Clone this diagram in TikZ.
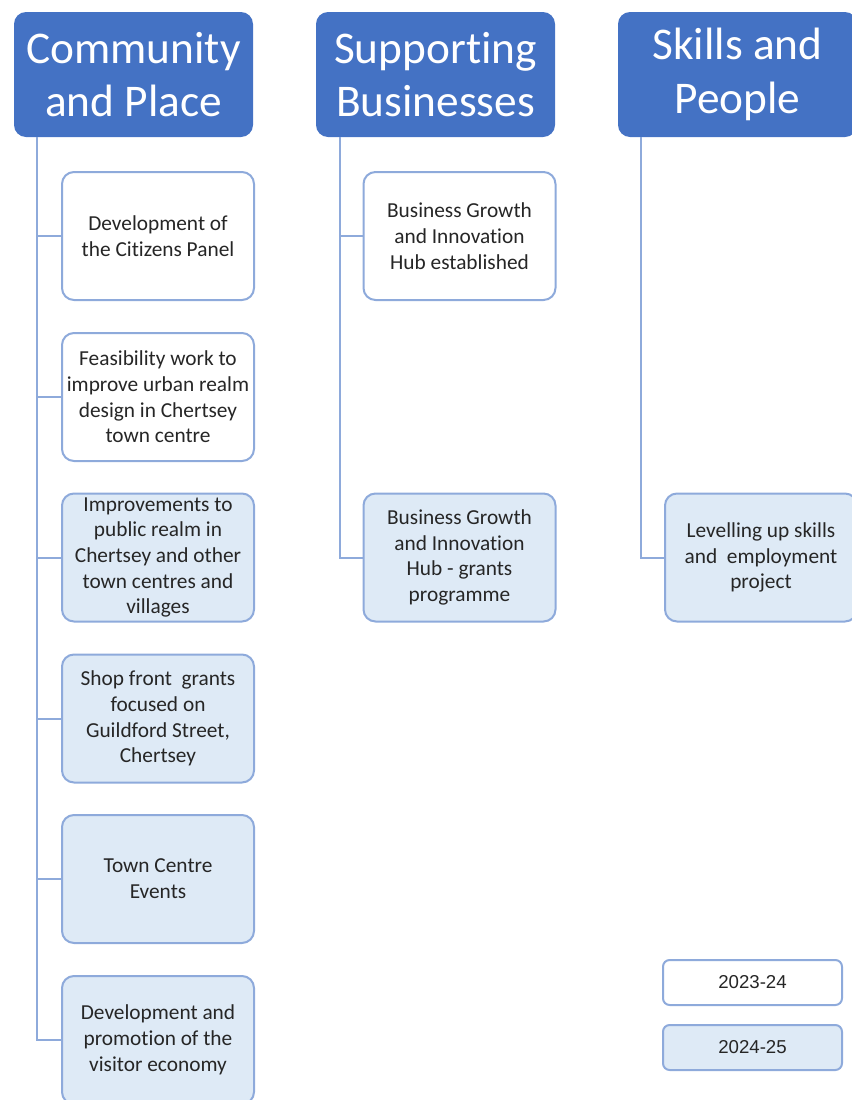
\documentclass[tikz,border=0pt]{standalone}
\usepackage{fontspec}
\setmainfont{Carlito}[Ligatures=CommonOff]
\newfontfamily\keyfont{Liberation Sans}
\usetikzlibrary{calc}
\definecolor{headblue}{HTML}{4472C4}
\definecolor{lineblue}{HTML}{8EAADB}
\definecolor{paleblue}{HTML}{DEEAF6}
\definecolor{inkgrey}{HTML}{262626}
\tikzset{
	header/.style={rounded corners=9pt, fill=headblue, text=white, align=center, inner sep=0pt,
		minimum width=179.25pt, minimum height=93.75pt, font=\fontsize{34}{40}\selectfont},
	task/.style={draw=lineblue, line width=1.5pt, rounded corners=9pt, align=center, inner sep=0pt,
		minimum width=144pt, minimum height=96pt, text=inkgrey, font=\fontsize{16}{19.3}\selectfont},
	yearone/.style={task, fill=white},
	yeartwo/.style={task, fill=paleblue},
	keybox/.style={draw=lineblue, line width=1.5pt, rounded corners=5pt, inner sep=0pt,
		minimum width=134.25pt, minimum height=33.75pt, text=inkgrey, font=\keyfont\fontsize{14}{16}\selectfont},
	link/.style={draw=lineblue, line width=1.5pt}
}

\begin{document}
\begin{tikzpicture}[x=0.75pt, y=-0.75pt]
			%%%%% START %%%%%
			\useasboundingbox (0, 0) rectangle (851, 1100);
			
			\node[header] (place) at (133.5, 74.5) {Community\\and Place};
			\node[header] (business) at (435.5, 74.5) {Supporting\\Businesses};
			\node[header] (skills) at (737.5, 74.5) {Skills and\\People};
			
			\node[yearone] (panel) at (158, 236) {Development of\\the Citizens Panel};
			\node[yearone] (realm) at (158, 397) {Feasibility work to\\improve urban realm\\design in Chertsey\\town centre};
			\node[yeartwo] (public) at (158, 557.5) {Improvements to\\public realm in\\Chertsey and other\\town centres and\\villages};
			\node[yeartwo] (shopfront) at (158, 718.5) {Shop front\ \ grants\\focused on\\Guildford Street,\\Chertsey};
			\node[yeartwo] (events) at (158, 879) {Town Centre\\Events};
			\node[yeartwo] (visitor) at (158, 1040) {Development and\\promotion of the\\visitor economy};
			
			\node[yearone] (hub) at (459.5, 236) {Business Growth\\and Innovation\\Hub established};
			\node[yeartwo] (grants) at (459.5, 557.5) {Business Growth\\and Innovation\\Hub - grants\\programme};
			
			\node[yeartwo] (levelling) at (761, 557.5) {Levelling up skills\\and\ \ employment\\project};
			
			% tree links
			\foreach \kid in {panel, realm, public, shopfront, events, visitor}
				\draw[link] ([xshift=17.25pt]place.south west) |- (\kid.west);
			\foreach \kid in {hub, grants}
				\draw[link] ([xshift=18pt]business.south west) |- (\kid.west);
			\draw[link] ([xshift=17.25pt]skills.south west) |- (levelling.west);
			
			% key
			\node[keybox, fill=white] (keyone) at (752.5, 982.5) {2023-24};
			\node[keybox, fill=paleblue] (keytwo) at (752.5, 1047.5) {2024-25};
			
			%%%%% END %%%%%
		\end{tikzpicture}
\end{document}
